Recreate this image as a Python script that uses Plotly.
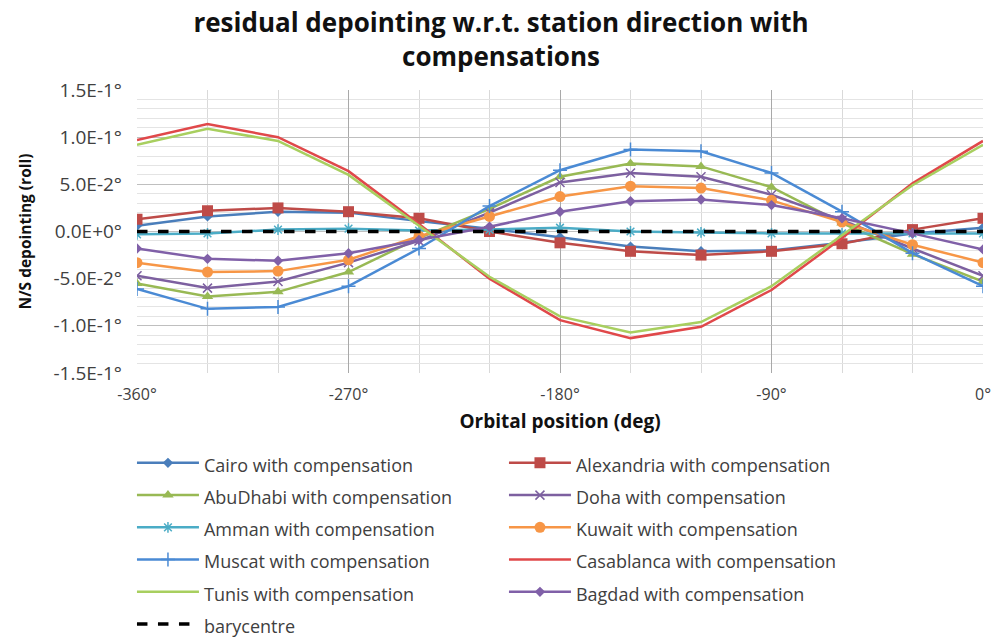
import plotly.graph_objects as go

# ---------------- data ----------------
orbital_pos = [-360, -330, -300, -270, -240, -210, -180, -150, -120, -90, -60, -30, 0]

cairo      = [0.006, 0.016, 0.021, 0.020, 0.011, 0.003, -0.006, -0.016, -0.021, -0.020, -0.012, -0.002, 0.004]
alexandria = [0.013, 0.022, 0.025, 0.021, 0.014, 0.000, -0.012, -0.021, -0.025, -0.021, -0.013, 0.002, 0.014]
abudhabi   = [-0.055, -0.069, -0.064, -0.043, -0.007, 0.024, 0.058, 0.072, 0.069, 0.047, 0.009, -0.024, -0.053]
doha       = [-0.047, -0.060, -0.053, -0.033, -0.010, 0.020, 0.052, 0.062, 0.058, 0.039, 0.012, -0.018, -0.047]
amman      = [-0.003, -0.002, 0.002, 0.003, 0.001, 0.002, 0.004, 0.000, -0.001, -0.002, -0.002, -0.002, -0.002]
kuwait     = [-0.033, -0.043, -0.042, -0.030, -0.005, 0.016, 0.037, 0.048, 0.046, 0.033, 0.010, -0.014, -0.033]
muscat     = [-0.061, -0.082, -0.080, -0.058, -0.018, 0.027, 0.065, 0.087, 0.085, 0.062, 0.021, -0.023, -0.058]
casablanca = [0.097, 0.114, 0.100, 0.064, 0.008, -0.050, -0.094, -0.113, -0.101, -0.062, -0.007, 0.051, 0.096]
tunis      = [0.092, 0.109, 0.096, 0.060, 0.006, -0.048, -0.090, -0.107, -0.096, -0.058, -0.004, 0.049, 0.092]
bagdad     = [-0.018, -0.029, -0.031, -0.023, -0.009, 0.005, 0.021, 0.032, 0.034, 0.028, 0.014, -0.002, -0.019]
barycentre = [0.0] * 13

y_tickvals = [-0.15, -0.10, -0.05, 0.0, 0.05, 0.10, 0.15]
y_ticktext = ["-1.5E-1°", "-1.0E-1°", "-5.0E-2°", "0.0E+0°", "5.0E-2°", "1.0E-1°", "1.5E-1°"]
x_tickvals = [-360, -270, -180, -90, 0]
x_ticktext = ["-360°", "-270°", "-180°", "-90°", "0°"]

FONT = "Open Sans"
TXT = "#404040"
LEG_TXT = 18

series = [
    ("Cairo with compensation", cairo, "#4a7ebb", dict(symbol="diamond", size=8)),
    ("Alexandria with compensation", alexandria, "#be4b48", dict(symbol="square", size=11)),
    ("AbuDhabi with compensation", abudhabi, "#98b954", dict(symbol="triangle-up", size=10)),
    ("Doha with compensation", doha, "#7d60a0", dict(symbol="x-thin-open", size=9, line=dict(width=1.5))),
    ("Amman with compensation", amman, "#4bacc6", dict(symbol="asterisk-open", size=9, line=dict(width=1.5))),
    ("Kuwait with compensation", kuwait, "#f79646", dict(symbol="circle", size=11)),
    ("Muscat with compensation", muscat, "#4a8ad4", dict(symbol="cross-thin-open", size=10, line=dict(width=1.5))),
    ("Casablanca with compensation", casablanca, "#e0484a", None),
    ("Tunis with compensation", tunis, "#a8cf5f", None),
    ("Bagdad with compensation", bagdad, "#8060a8", dict(symbol="diamond", size=8)),
]

fig = go.Figure()
for name, vals, col, mk in series:
    label = f'<span style="font-size:{LEG_TXT}px">{name}</span>'
    if mk is None:
        fig.add_trace(go.Scatter(x=orbital_pos, y=vals, mode="lines", name=label,
                                 line=dict(color=col, width=2.5)))
    else:
        m = dict(mk)
        m["color"] = col
        if "line" in m:
            m["line"] = dict(m["line"], color=col)
        fig.add_trace(go.Scatter(x=orbital_pos, y=vals, mode="lines+markers", name=label,
                                 line=dict(color=col, width=2.5), marker=m))

fig.add_trace(go.Scatter(x=orbital_pos, y=barycentre, mode="lines",
                         name=f'<span style="font-size:{LEG_TXT}px">barycentre</span>',
                         line=dict(color="black", width=3.5, dash="dash")))

fig.update_layout(
    width=1002, height=643,
    paper_bgcolor="white", plot_bgcolor="white",
    margin=dict(l=137, r=11, t=90, b=270),
    font=dict(family=FONT, color=TXT),
    title=dict(text="<b>residual depointing w.r.t. station direction with<br>compensations</b>",
               x=0.5, xanchor="center", xref="container",
               y=0.950, yanchor="top", yref="container",
               font=dict(family=FONT, size=26, color="#111111")),
    showlegend=True,
    legend=dict(orientation="h", x=0.1317, xanchor="left", xref="container",
                y=0.313, yanchor="top", yref="container",
                entrywidth=295, entrywidthmode="pixels", itemwidth=62,
                font=dict(family=FONT, size=22.5, color=TXT),
                bgcolor="rgba(0,0,0,0)", traceorder="normal"),
)

fig.update_xaxes(
    range=[-360, 0], tickvals=x_tickvals, ticktext=x_ticktext,
    showgrid=True, gridcolor="#a9a9a9", gridwidth=1,
    minor=dict(dtick=30, tick0=0, showgrid=True, gridcolor="#d9d9d9", gridwidth=1),
    zeroline=False, showline=False, ticks="", ticklabelstandoff=10,
    tickfont=dict(family=FONT, size=16, color=TXT),
    title=dict(text="<b>Orbital position (deg)</b>", font=dict(family=FONT, size=19, color="#111111"),
               standoff=10),
)
fig.update_yaxes(
    range=[-0.15, 0.15], tickvals=y_tickvals, ticktext=y_ticktext,
    showgrid=True, gridcolor="#bfbfbf", gridwidth=1,
    minor=dict(dtick=0.01, showgrid=True, gridcolor="#e4e4e4", gridwidth=1),
    zeroline=False, showline=False, ticks="", ticklabelstandoff=14,
    tickfont=dict(family=FONT, size=19, color=TXT),
    title=dict(text="<b>N/S depointing (roll)</b>", font=dict(family=FONT, size=15.5, color="#111111"),
               standoff=18),
)

fig.write_html("out.html", config={"displayModeBar": False},
               post_script="document.body.style.margin='0';document.body.style.overflow='hidden';")
